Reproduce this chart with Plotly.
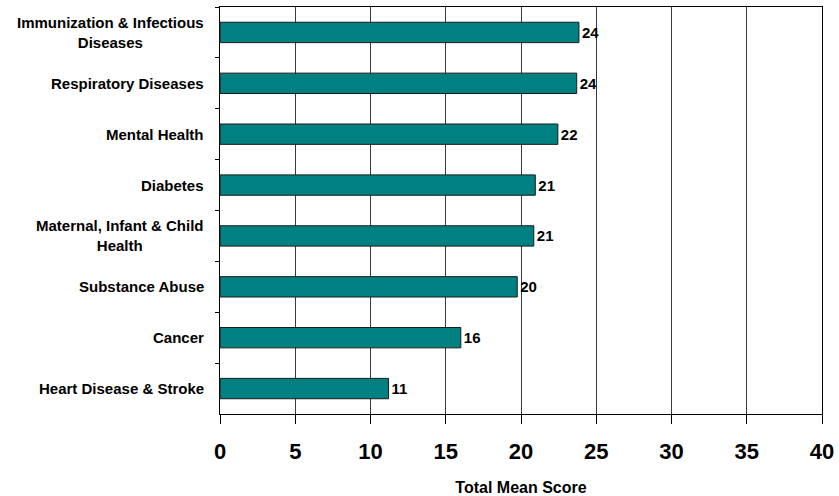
import plotly.graph_objects as go

categories = [
    "Immunization & Infectious<br>Diseases",
    "Respiratory Diseases",
    "Mental Health",
    "Diabetes",
    "Maternal, Infant & Child<br>Health",
    "Substance Abuse",
    "Cancer",
    "Heart Disease & Stroke",
]
values = [23.85, 23.7, 22.45, 20.95, 20.85, 19.75, 16.0, 11.2]
value_labels = ["24", "24", "22", "21", "21", "20", "16", "11"]
x_ticks = [0, 5, 10, 15, 20, 25, 30, 35, 40]

FONT = "Liberation Sans, Arial, sans-serif"

fig = go.Figure()
fig.add_trace(go.Bar(
    y=categories,
    x=values,
    orientation="h",
    marker=dict(color="#008080", line=dict(color="#1a1a1a", width=1)),
    text=value_labels,
    textposition="outside",
    textfont=dict(family=FONT, size=15, color="black", weight="bold"),
    cliponaxis=False,
    hoverinfo="skip",
))

for cat in categories:
    fig.add_annotation(
        x=0, xref="paper", y=cat, yref="y",
        text="<b>" + cat + "</b>",
        showarrow=False, xanchor="right", yanchor="middle",
        xshift=-14, align="center",
        font=dict(family=FONT, size=15, color="black"),
    )

fig.update_layout(
    width=839, height=496,
    margin=dict(l=220, r=17, t=7, b=82),
    paper_bgcolor="white", plot_bgcolor="white",
    showlegend=False,
    bargap=0.6,
    font=dict(family=FONT, color="black"),
)
fig.update_xaxes(
    range=[0, 40],
    tickvals=x_ticks,
    ticks="outside", ticklen=9, tickcolor="black", tickwidth=1,
    tickfont=dict(family=FONT, size=22, color="black", weight="bold"),
    ticklabelstandoff=9,
    showgrid=True, gridcolor="#3a3a3a", gridwidth=1,
    showline=True, linecolor="black", linewidth=1, mirror=True,
    zeroline=False,
    automargin=False,
    title=dict(text="<b>Total Mean Score</b>", font=dict(family=FONT, size=16, color="black"), standoff=26),
)
fig.update_yaxes(
    autorange="reversed",
    tickson="boundaries",
    ticks="outside", ticklen=4, tickcolor="black",
    showticklabels=False,
    showgrid=False,
    automargin=False,
    showline=True, linecolor="black", linewidth=1, mirror=True,
)

fig.write_html(
    "out.html",
    config={"displayModeBar": False},
    post_script="document.body.style.margin='0';document.body.style.padding='0';",
)
